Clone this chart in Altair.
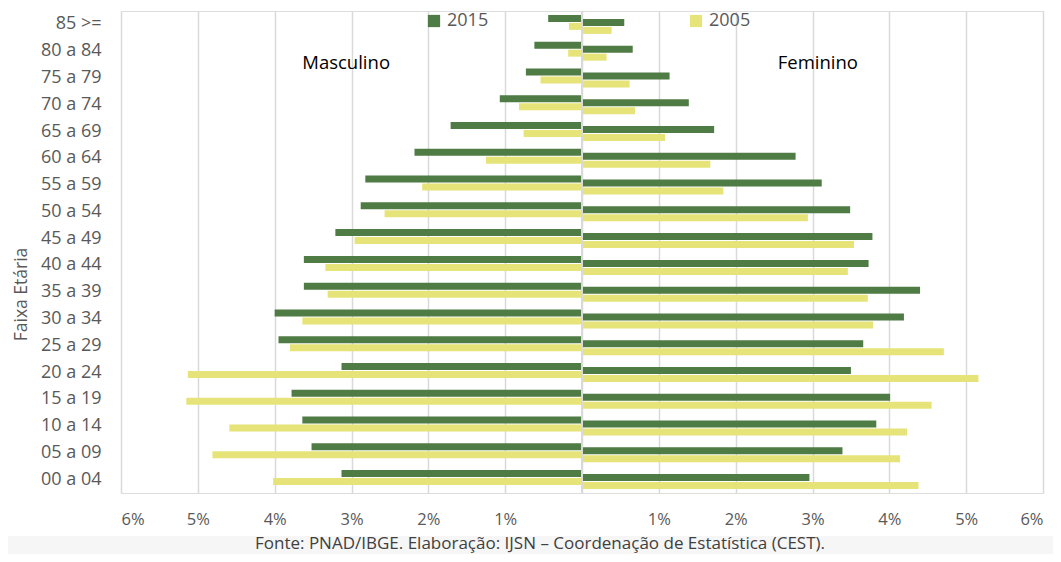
import altair as alt
import pandas as pd

faixas = ["85 >=", "80 a 84", "75 a 79", "70 a 74", "65 a 69", "60 a 64", "55 a 59",
          "50 a 54", "45 a 49", "40 a 44", "35 a 39", "30 a 34", "25 a 29", "20 a 24",
          "15 a 19", "10 a 14", "05 a 09", "00 a 04"]
masc_2015 = [0.44, 0.62, 0.73, 1.07, 1.71, 2.18, 2.82, 2.88, 3.21, 3.62, 3.62, 4.00, 3.95,
             3.13, 3.78, 3.64, 3.52, 3.13]
masc_2005 = [0.17, 0.18, 0.54, 0.82, 0.76, 1.25, 2.08, 2.57, 2.96, 3.34, 3.31, 3.64, 3.80,
             5.13, 5.15, 4.59, 4.81, 4.02]
fem_2015 = [0.55, 0.66, 1.14, 1.39, 1.72, 2.78, 3.12, 3.49, 3.78, 3.73, 4.40, 4.19, 3.66,
            3.50, 4.01, 3.83, 3.39, 2.96]
fem_2005 = [0.385, 0.32, 0.62, 0.69, 1.08, 1.67, 1.84, 2.94, 3.54, 3.46, 3.72, 3.79, 4.71,
            5.16, 4.55, 4.23, 4.14, 4.38]
anos = ["2015", "2005"]
cores = ["#4f7b45", "#e6e479"]
tick_vals = [-6, -5, -4, -3, -2, -1, 0, 1, 2, 3, 4, 5, 6]
fonte = "Fonte: PNAD/IBGE. Elaboração: IJSN – Coordenação de Estatística (CEST)."

rows = []
for i, f in enumerate(faixas):
    rows.append({"Faixa": f, "Sexo": "M", "Ano": "2015", "v": -masc_2015[i]})
    rows.append({"Faixa": f, "Sexo": "M", "Ano": "2005", "v": -masc_2005[i]})
    rows.append({"Faixa": f, "Sexo": "F", "Ano": "2015", "v": fem_2015[i]})
    rows.append({"Faixa": f, "Sexo": "F", "Ano": "2005", "v": fem_2005[i]})
df = pd.DataFrame(rows)

FONT = "Open Sans"
GRAY = "#595959"

xenc = alt.X("v:Q", scale=alt.Scale(domain=[-6, 6], nice=False, zero=False),
             axis=alt.Axis(values=tick_vals, title=None, domain=False, ticks=False,
                           grid=True, gridColor="#d9d9d9", gridWidth=1.5,
                           labelExpr="datum.value == 0 ? '' : abs(datum.value) + '%'",
                           labelFontSize=16.5, labelColor=GRAY, labelFont=FONT,
                           labelPadding=18))
yenc = alt.Y("Faixa:N", sort=faixas,
             scale=alt.Scale(paddingInner=0, paddingOuter=0),
             axis=alt.Axis(title="Faixa Etária", domain=False, ticks=False,
                           labelFontSize=18, labelColor=GRAY, labelFont=FONT,
                           labelPadding=20, titleFontSize=17.5, titleColor=GRAY,
                           titleFont=FONT, titleFontWeight="normal",
                           titleX=-100, titleY=283, titleAngle=-90,
                           titleAlign="center", titleBaseline="middle"))
cenc = alt.Color("Ano:N", scale=alt.Scale(domain=anos, range=cores),
                 legend=alt.Legend(title=None, orient="none", legendX=304, legendY=1,
                                   direction="horizontal", symbolType="square",
                                   symbolSize=150, symbolStrokeWidth=0,
                                   labelFontSize=18, labelColor=GRAY, labelFont=FONT,
                                   columnPadding=198, symbolOpacity=1))

offsets = {("M", "2015"): -6, ("M", "2005"): 2, ("F", "2015"): -2, ("F", "2005"): 6}
layers = []
bg = alt.Chart(pd.DataFrame({"a": [0]})).mark_rect(color="#f6f6f6", clip=False).encode(
    x=alt.value(-121), x2=alt.value(940), y=alt.value(525), y2=alt.value(560))
layers.append(bg)
for (sexo, ano), off in offsets.items():
    layers.append(
        alt.Chart(df).transform_filter(
            (alt.datum.Sexo == sexo) & (alt.datum.Ano == ano)
        ).mark_bar(height=7, yOffset=off).encode(x=xenc, y=yenc, color=cenc)
    )

zero = alt.Chart(pd.DataFrame({"z": [0]})).mark_rule(color="#d9d9d9", strokeWidth=2).encode(
    x=alt.X("z:Q"))
layers.append(zero)

ann = pd.DataFrame({"t": ["Masculino", "Feminino"], "v": [-3.07, 3.07],
                    "Faixa": ["80 a 84", "80 a 84"]})
annot = alt.Chart(ann).mark_text(font=FONT, fontSize=18.5, color="#000000", dy=12,
                                 baseline="middle").encode(
    x=alt.X("v:Q"), y=alt.Y("Faixa:N", sort=faixas), text="t:N")
layers.append(annot)

foot = alt.Chart(pd.DataFrame({"t": [fonte]})).mark_text(
    font=FONT, fontSize=17, color="#404040", baseline="middle", align="center").encode(
    x=alt.value(419), y=alt.value(533), text="t:N")
layers.append(foot)

chart = alt.layer(*layers).properties(
    width=922, height=482,
    autosize=alt.AutoSizeParams(type="none"),
    padding={"left": 113, "top": 3, "right": 10, "bottom": 61},
).configure_view(stroke=None).configure(background="white")

chart.save("out.html", embed_options={"renderer": "svg", "actions": False})
